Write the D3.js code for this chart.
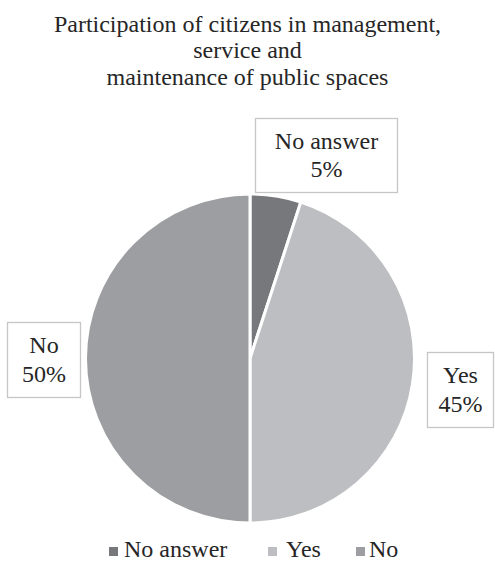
<!DOCTYPE html>
<html>
<head>
<meta charset="utf-8">
<script src="https://cdn.jsdelivr.net/npm/d3@7"></script>
<style>
  html, body { margin: 0; padding: 0; background: #fff; }
</style>
</head>
<body>
<svg id="chart" width="495" height="563"></svg>
<script>
// Survey answers
const categories = ["No answer", "Yes", "No"];
const shares = [5, 45, 50];
const colors = ["#77787b", "#bdbec1", "#9d9ea1"];
const titleLines = ["Participation of citizens in management,", "service and", "maintenance of public spaces"];

const FONT = "Liberation Serif";
const FS = 24;
const TEXT = "#262626";
const svg = d3.select("#chart");
const W = 495;
const cx = 250, cy = 358.5, r = 164.5;

// Title
svg.append("g").selectAll("text").data(titleLines).join("text")
  .attr("x", W / 2).attr("y", (d, i) => 31.5 + i * 26.5)
  .attr("text-anchor", "middle").attr("fill", TEXT)
  .style("font-family", FONT).style("font-size", FS + "px")
  .text(d => d);

// Pie slices, clockwise from 12 o'clock
const pie = d3.pie().sort(null).value(d => d.v);
const data = categories.map((c, i) => ({ c, v: shares[i], col: colors[i] }));
const arcs = pie(data);
const arc = d3.arc().innerRadius(0).outerRadius(r);

const g = svg.append("g").attr("transform", `translate(${cx},${cy})`);
g.selectAll("path").data(arcs).join("path")
  .attr("d", arc).attr("fill", d => d.data.col)
  .attr("stroke", "#fff").attr("stroke-width", 3).attr("stroke-linejoin", "miter");

// Data label boxes
const labelBoxes = [
  { x: 255, y: 118, w: 142, h: 74 },
  { x: 427, y: 352, w: 66, h: 75 },
  { x: 7, y: 322, w: 73, h: 75 }
];
const lg = svg.append("g");
arcs.forEach((a, i) => {
  const b = labelBoxes[i];
  lg.append("rect").attr("x", b.x + 0.5).attr("y", b.y + 0.5).attr("width", b.w).attr("height", b.h)
    .attr("fill", "#fff").attr("stroke", "#c6c6c6").attr("stroke-width", 1.3);
  const t = lg.append("text").attr("text-anchor", "middle").attr("fill", TEXT)
    .style("font-family", FONT).style("font-size", FS + "px");
  const lines = [a.data.c, a.data.v + "%"];
  const lh = 28.5;
  const y0 = b.y + b.h / 2 - lh / 2 + 8;
  lines.forEach((s, k) => {
    t.append("tspan").attr("x", b.x + b.w / 2 + 0.5).attr("y", y0 + k * lh).text(s);
  });
});

// Legend
const legendItems = [
  { x: 109, tx: 124 },
  { x: 268, tx: 286 },
  { x: 356, tx: 369 }
];
const leg = svg.append("g");
categories.forEach((c, i) => {
  leg.append("rect").attr("x", legendItems[i].x).attr("y", 547).attr("width", 9).attr("height", 9)
    .attr("fill", colors[i]);
  leg.append("text").attr("x", legendItems[i].tx).attr("y", 557)
    .attr("fill", TEXT).style("font-family", FONT).style("font-size", FS + "px").text(c);
});
</script>
</body>
</html>
